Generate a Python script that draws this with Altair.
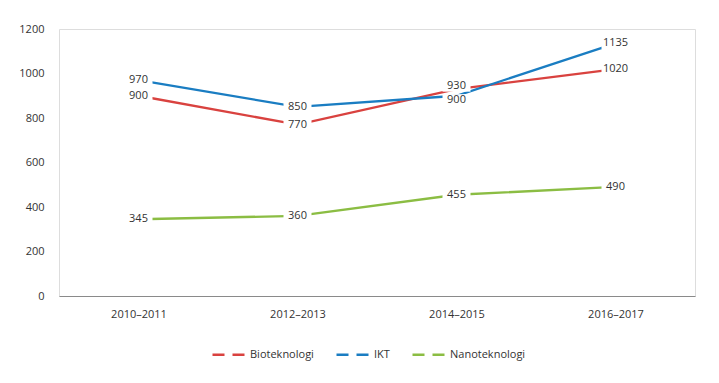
import altair as alt
import pandas as pd

periods = ["2010–2011", "2012–2013", "2014–2015", "2016–2017"]
series = ["Bioteknologi", "IKT", "Nanoteknologi"]
bio = [900, 770, 930, 1020]
ikt = [970, 850, 900, 1135]
nano = [345, 360, 455, 490]
colors = ["#d9423f", "#1a7dc2", "#8bbd43"]
y_ticks = [0, 200, 400, 600, 800, 1000, 1200]

rows = []
for name, vals in zip(series, [bio, ikt, nano]):
    for p, v in zip(periods, vals):
        rows.append({"periode": p, "serie": name, "verdi": v})
df = pd.DataFrame(rows)

FONT = "Open Sans"
TXT = "#333333"

x = alt.X(
    "periode:N",
    sort=periods,
    scale=alt.Scale(domain=periods, type="point", padding=0.5),
    axis=alt.Axis(title=None, labelAngle=0, ticks=False, domainColor="#8a8a8a",
                  domainWidth=1, labelPadding=12, labelFontSize=11, labelColor=TXT,
                  labelFont=FONT),
)
y = alt.Y(
    "verdi:Q",
    scale=alt.Scale(domain=[0, 1200]),
    axis=alt.Axis(title=None, values=y_ticks, format="d", grid=False, domain=False,
                  ticks=False, labelPadding=15, labelFontSize=11, labelColor=TXT,
                  labelFont=FONT),
)
color = alt.Color(
    "serie:N",
    scale=alt.Scale(domain=series, range=colors),
    legend=alt.Legend(title=None, orient="none", legendX=152, legendY=308,
                      direction="horizontal",
                      symbolType="stroke", symbolDash=[12, 8], symbolSize=1024,
                      symbolStrokeWidth=2.5, labelFontSize=11, labelColor=TXT,
                      labelFont=FONT, columnPadding=17, labelOffset=4),
)

base = alt.Chart(df).encode(x=x, y=y)
lines = base.mark_line(strokeWidth=2.3).encode(color=color, detail="serie:N")

BOX = "M-1,-0.4H1V0.4H-1Z"
is_up = "datum.periode == '2014–2015' && datum.serie == 'Bioteknologi'"
is_down = "datum.periode == '2014–2015' && datum.serie == 'IKT'"
is_plain = f"!({is_up}) && !({is_down})"


def label_layers(cond, shift):
    b = base.transform_filter(cond).mark_point(
        shape=BOX, filled=True, fill="white", strokeWidth=0, size=784,
        opacity=1, yOffset=shift)
    t = base.transform_filter(cond).mark_text(
        fontSize=11, color=TXT, font=FONT, dy=shift).encode(text="verdi:Q")
    return b, t


b0, t0 = label_layers(is_plain, 0)
b1, t1 = label_layers(is_up, -3)
b2, t2 = label_layers(is_down, 4)

chart = (
    alt.layer(lines, b0, b1, b2, t0, t1, t2)
    .properties(width=636, height=267,
                autosize=alt.AutoSizeParams(type="none"),
                padding={"left": 51, "top": 21, "right": 10, "bottom": 80})
    .configure_view(stroke=None)
    .configure(font=FONT)
)

chart.save("out.html", embed_options={"renderer": "svg", "actions": False})
